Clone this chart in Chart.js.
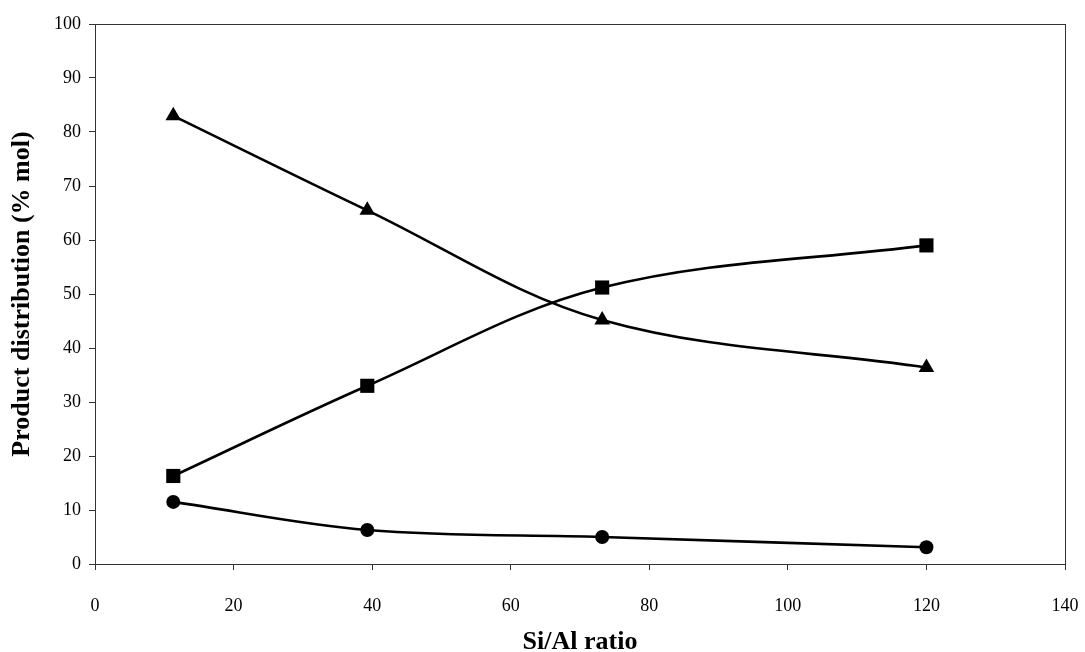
<!DOCTYPE html>
<html>
<head>
<meta charset="utf-8">
<script src="https://cdn.jsdelivr.net/npm/chart.js@4/dist/chart.umd.min.js"></script>
<style>
html,body{margin:0;padding:0;background:#fff;}
#wrap{width:1085px;height:652px;position:relative;}
</style>
</head>
<body>
<div id="wrap"><canvas id="c" width="1085" height="652"></canvas></div>
<script>
const siAl = [11.3, 39.3, 73.2, 120];
const triangleSeries = [83, 65.5, 45.2, 36.4];
const squareSeries = [16.3, 33, 51.2, 59];
const circleSeries = [11.5, 6.3, 5, 3.1];
const xTicks = [0, 20, 40, 60, 80, 100, 120, 140];
const yTicks = [0, 10, 20, 30, 40, 50, 60, 70, 80, 90, 100];

const pts = arr => siAl.map((x, i) => ({x: x, y: arr[i]}));
const base = {showLine: true, borderColor: '#000', backgroundColor: '#000', borderWidth: 2.6, tension: 0.35, pointBorderWidth: 0};

const boxPlugin = {
  id: 'box',
  afterDraw(chart) {
    const a = chart.chartArea, ctx = chart.ctx;
    ctx.save();
    ctx.strokeStyle = '#333';
    ctx.lineWidth = 1;
    ctx.strokeRect(a.left + 0.5, a.top + 0.5, a.right - a.left, a.bottom - a.top);
    ctx.restore();
  }
};

new Chart(document.getElementById('c'), {
  type: 'scatter',
  data: {
    datasets: [
      Object.assign({}, base, {label: 'triangle', data: pts(triangleSeries), pointStyle: 'triangle', pointRadius: 9}),
      Object.assign({}, base, {label: 'square', data: pts(squareSeries), pointStyle: 'rect', pointRadius: 10}),
      Object.assign({}, base, {label: 'circle', data: pts(circleSeries), pointStyle: 'circle', pointRadius: 7})
    ]
  },
  options: {
    responsive: false,
    animation: false,
    layout: {padding: {top: 24, right: 20, left: 0, bottom: 0}},
    plugins: {legend: {display: false}, tooltip: {enabled: false}},
    scales: {
      x: {
        type: 'linear', min: 0, max: 140,
        afterBuildTicks: s => { s.ticks = xTicks.map(v => ({value: v})); },
        afterFit: s => { s.height = 88; s.paddingRight = 0; s.paddingLeft = 0; },
        grid: {drawOnChartArea: false, drawTicks: true, tickLength: 6, color: '#333'},
        border: {display: true, color: '#333', width: 1},
        ticks: {color: '#000', font: {family: 'Liberation Serif', size: 18}, padding: 25, maxRotation: 0},
        title: {display: true, text: 'Si/Al ratio', color: '#000', font: {family: 'Liberation Serif', size: 26, weight: 'bold', lineHeight: 1.0}, padding: {top: 4, bottom: -3}}
      },
      y: {
        type: 'linear', min: 0, max: 100,
        afterBuildTicks: s => { s.ticks = yTicks.map(v => ({value: v})); },
        afterFit: s => { s.width = 95; },
        grid: {drawOnChartArea: false, drawTicks: true, tickLength: 6, color: '#333'},
        border: {display: true, color: '#333', width: 1},
        ticks: {color: '#000', font: {family: 'Liberation Serif', size: 18}, padding: 8},
        title: {display: true, text: 'Product distribution (% mol)', color: '#000', font: {family: 'Liberation Serif', size: 26, weight: 'bold'}, padding: {top: 7, bottom: 0}}
      }
    }
  },
  plugins: [boxPlugin]
});
</script>
</body>
</html>
